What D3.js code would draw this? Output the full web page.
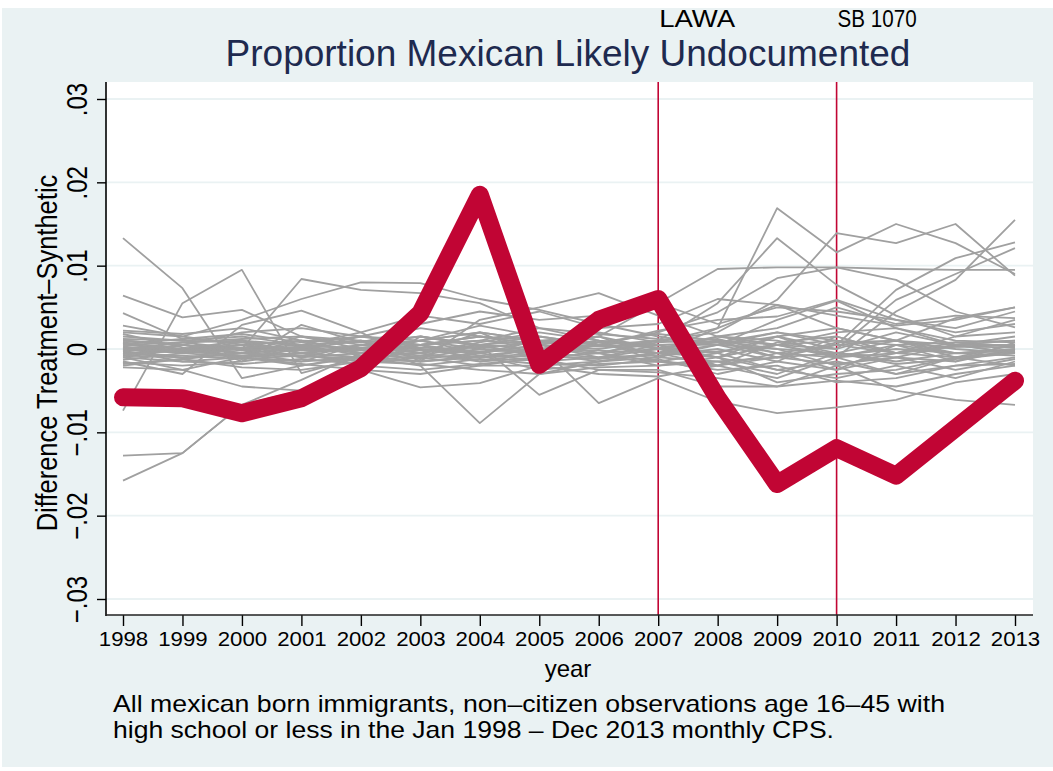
<!DOCTYPE html>
<html><head><meta charset="utf-8">
<script src="https://cdn.jsdelivr.net/npm/d3@7"></script>
<style>html,body{margin:0;padding:0;background:#fff;}svg{display:block;font-family:"Liberation Sans",Arial,Helvetica,sans-serif;}</style>
</head><body><svg id="c" width="1053" height="771"></svg>
<script>
const years = [1998,1999,2000,2001,2002,2003,2004,2005,2006,2007,2008,2009,2010,2011,2012,2013];
const yTicks = [-0.03,-0.02,-0.01,0,0.01,0.02,0.03];
const yTickLabels = ["\u2212.03","\u2212.02","\u2212.01","0",".01",".02",".03"];
const eventYears = [2007, 2010];
const eventLabels = ["LAWA", "SB 1070"];
const treated = [-.0058,-.0059,-.0077,-.0059,-.0023,.0043,.0185,-.0019,.0035,.0060,-.0059,-.0162,-.0119,-.0152,-.0095,-.0038];
const placebos = [
 [.0133,.0073,-.0035,-.0020,-.0010,.0005,-.0005,.0010,.0005,-.0005,.0015,.0005,-.0010,-.0005,.0008,.0003],
 [.0064,.0038,.0047,.0015,.0005,-.0005,.0020,-.0010,.0008,.0005,-.0020,.0008,.0015,-.0005,.0005,-.0005],
 [.0043,.0012,-.0015,.0029,.0008,.0015,.0003,-.0005,.0015,-.0010,.0005,.0035,.0058,.0025,.0005,.0010],
 [-.0074,.0055,.0095,-.0029,-.0010,.0005,.0015,.0010,-.0005,.0008,.0012,-.0005,-.0025,.0005,-.0015,.0008],
 [.0005,.0008,.0000,.0084,.0071,.0067,.0055,.0025,.0010,.0005,-.0010,.0005,.0010,-.0005,.0003,.0005],
 [.0020,.0015,.0035,.0060,.0080,.0079,.0060,.0047,.0030,.0015,.0005,-.0010,.0008,.0010,-.0010,.0005],
 [-.0015,-.0030,.0029,.0046,.0020,-.0015,.0035,.0050,.0067,.0040,.0015,.0010,-.0005,-.0010,.0005,-.0005],
 [-.0128,-.0125,-.0067,-.0037,-.0005,.0010,-.0005,.0005,-.0010,.0005,.0005,.0020,.0010,.0005,-.0005,.0000],
 [-.0158,-.0125,-.0067,-.0050,-.0030,.0015,.0005,-.0010,.0005,-.0005,.0010,.0000,-.0005,.0010,.0000,-.0005],
 [-.0010,-.0025,-.0045,-.0050,-.0025,-.0046,-.0041,-.0020,-.0015,-.0005,-.0010,-.0025,-.0015,-.0030,-.0010,-.0020],
 [.0015,.0010,.0015,.0005,.0010,-.0020,-.0089,-.0030,-.0015,-.0005,.0005,.0015,.0025,.0010,.0005,.0015],
 [-.0005,-.0010,-.0005,.0010,-.0005,-.0005,.0005,-.0055,-.0025,-.0025,-.0045,-.0045,-.0020,-.0050,-.0061,-.0067],
 [.0000,-.0005,.0005,-.0005,.0005,.0000,-.0005,.0005,-.0065,-.0035,-.0063,-.0077,-.0070,-.0061,-.0040,-.0030],
 [.0005,.0000,-.0010,-.0005,.0000,.0005,.0010,.0005,.0015,.0055,.0096,.0098,.0098,.0096,.0095,.0095],
 [-.0005,.0000,.0005,-.0010,.0005,.0010,.0000,-.0005,.0005,-.0005,.0025,.0169,.0116,.0150,.0127,.0090],
 [.0008,-.0005,.0000,.0005,-.0008,.0005,.0015,.0005,.0000,.0010,.0020,.0059,.0139,.0127,.0150,.0088],
 [-.0008,.0005,-.0005,.0000,.0010,-.0005,.0005,.0015,.0005,.0010,.0055,.0133,.0077,.0040,.0015,.0035],
 [.0002,-.0002,.0008,-.0005,-.0010,.0000,-.0010,.0000,.0010,-.0015,-.0005,.0015,-.0010,.0045,.0083,.0155],
 [.0010,.0005,-.0005,.0015,.0000,.0010,.0020,.0010,-.0005,.0000,.0010,-.0010,.0005,.0071,.0109,.0128],
 [-.0002,-.0015,-.0010,.0000,.0015,.0005,-.0015,-.0005,.0005,.0020,.0044,.0085,.0098,.0083,.0045,.0026],
 [.0000,.0008,.0010,-.0005,.0005,.0015,.0005,.0010,.0015,.0000,-.0010,.0005,.0000,.0059,.0090,.0121],
 [.0010,.0005,.0020,.0025,.0015,.0030,.0045,.0035,.0040,.0055,.0030,.0050,.0045,.0035,.0020,.0030],
 [-.0010,.0000,.0010,.0005,.0020,.0040,.0030,.0045,.0025,.0030,.0060,.0053,.0025,.0010,.0037,.0050],
 [.0028,.0015,.0005,.0010,.0008,.0025,.0015,.0005,.0020,.0008,.0025,.0053,.0040,.0028,.0035,.0050],
 [.0022,.0018,.0025,.0010,-.0005,.0010,.0028,.0015,.0005,.0022,.0035,.0039,.0059,.0035,.0025,.0045],
 [.0018,.0002,-.0010,-.0015,.0005,-.0005,.0008,.0020,.0010,.0000,.0015,.0025,.0050,.0030,.0040,.0037],
 [.0012,.0010,.0008,.0005,.0000,-.0008,.0005,.0000,-.0005,.0010,.0005,.0000,-.0020,-.0005,.0015,.0020],
 [.0008,.0000,-.0005,.0002,-.0005,.0005,-.0008,.0000,.0005,.0002,-.0010,.0015,.0000,.0020,.0005,.0005],
 [.0003,-.0005,.0005,-.0002,.0000,-.0010,.0000,-.0005,-.0010,-.0008,.0000,-.0015,.0015,-.0005,-.0010,-.0003],
 [.0000,-.0003,-.0008,-.0005,-.0010,-.0005,-.0015,-.0010,-.0005,-.0015,-.0020,-.0005,-.0010,-.0030,-.0020,-.0010],
 [-.0003,.0005,.0000,-.0010,-.0005,-.0012,-.0005,-.0015,-.0010,.0000,-.0005,-.0025,-.0035,-.0020,-.0035,-.0015],
 [-.0005,-.0008,-.0012,-.0008,-.0015,-.0008,-.0010,-.0005,-.0015,-.0010,-.0015,-.0030,-.0005,-.0015,-.0005,-.0008],
 [-.0008,-.0010,-.0005,-.0015,-.0010,-.0020,-.0012,-.0018,-.0020,-.0012,-.0030,-.0015,-.0025,-.0010,-.0025,-.0012],
 [-.0010,-.0015,-.0018,-.0012,-.0018,-.0010,-.0020,-.0010,-.0005,-.0020,-.0010,-.0040,-.0030,-.0025,-.0010,-.0005],
 [-.0013,-.0005,-.0010,-.0020,-.0008,-.0015,-.0008,-.0025,-.0018,-.0015,-.0025,-.0020,-.0040,-.0035,-.0020,-.0018],
 [-.0016,-.0020,-.0015,-.0005,-.0020,-.0025,-.0018,-.0012,-.0025,-.0028,-.0035,-.0045,-.0038,-.0045,-.0030,-.0020],
 [-.0020,-.0012,-.0022,-.0025,-.0015,-.0018,-.0025,-.0030,-.0022,-.0020,-.0015,-.0010,-.0018,-.0010,-.0015,.0000],
 [-.0022,-.0025,-.0010,-.0018,-.0025,-.0030,-.0020,-.0020,-.0030,-.0033,-.0020,-.0035,-.0010,.0005,.0008,.0010],
 [-.0002,.0008,.0012,.0015,.0010,.0005,.0010,.0025,.0018,.0012,.0008,.0020,.0005,.0010,-.0005,-.0002],
 [.0006,.0012,.0018,.0008,.0015,.0010,.0020,.0010,.0008,.0018,.0010,.0005,.0020,.0025,.0010,.0008],
 [-.0006,-.0002,.0002,.0000,-.0002,.0002,-.0003,.0000,-.0002,-.0005,-.0003,.0005,-.0008,.0000,-.0005,-.0002],
 [.0010,.0005,-.0002,.0003,.0002,-.0002,.0002,.0008,.0003,.0005,.0008,-.0005,.0005,-.0005,.0003,.0002],
 [-.0018,-.0012,-.0005,-.0008,-.0012,-.0015,-.0010,-.0008,-.0012,-.0005,-.0020,-.0010,-.0005,-.0018,-.0012,-.0005]
];
const titleText = "Proportion Mexican Likely Undocumented";
const yTitle = "Difference Treatment\u2013Synthetic";
const xTitle = "year";
const noteLines = ["All mexican born immigrants, non\u2013citizen observations age 16\u201345 with",
                   "high school or less in the Jan 1998 \u2013 Dec 2013 monthly CPS."];
const noteWidths = [832, 721];
const eventLabelWidths = [76, 79];

const svg = d3.select("#c");
const BG = "#EAF2F3", RED = "#C10534", GRAY = "#A0A0A0", INK = "#000";
const FONT = '"Liberation Sans",Arial,Helvetica,sans-serif';
const plot = {l:106, t:82, r:1033, b:615};

svg.append("rect").attr("x",2).attr("y",8).attr("width",1051).attr("height",759).attr("fill",BG);
svg.append("rect").attr("x",plot.l).attr("y",plot.t).attr("width",plot.r-plot.l).attr("height",plot.b-plot.t).attr("fill","#fff");

const x = d3.scaleLinear().domain([1998,2013]).range([123,1015]);
const y = d3.scaleLinear().domain([-0.03,0.03]).range([599,99]);

// gridlines
svg.append("g").selectAll("line").data(yTicks).join("line")
  .attr("x1",plot.l).attr("x2",plot.r).attr("y1",d=>y(d)).attr("y2",d=>y(d))
  .attr("stroke",BG).attr("stroke-width",1.8);

// event lines
svg.append("g").selectAll("line").data(eventYears).join("line")
  .attr("x1",d=>x(d)).attr("x2",d=>x(d)).attr("y1",plot.t).attr("y2",plot.b)
  .attr("stroke",RED).attr("stroke-width",1.6);

const line = d3.line().x((d,i)=>x(years[i])).y(d=>y(d));
svg.append("g").selectAll("path").data(placebos).join("path")
  .attr("d",line).attr("fill","none").attr("stroke",GRAY).attr("stroke-width",1.8).attr("stroke-linejoin","round");

svg.append("path").datum(treated).attr("d",line).attr("fill","none")
  .attr("stroke",RED).attr("stroke-width",18).attr("stroke-linejoin","round").attr("stroke-linecap","round");

// axes
const yAxis = svg.append("g").attr("transform",`translate(${plot.l},0)`)
  .call(d3.axisLeft(y).tickValues(yTicks).tickSize(9).tickSizeOuter(0).tickFormat((d,i)=>yTickLabels[i]));
yAxis.select(".domain").remove();
yAxis.selectAll(".tick line").attr("stroke",INK).attr("stroke-width",1.4);
yAxis.selectAll(".tick text").attr("x",null).attr("dy",null)
  .attr("transform","translate(-19,0) rotate(-90) scale(1,1.25)").attr("text-anchor","middle")
  .attr("font-size",24).attr("fill",INK).attr("font-family",FONT);

const xAxis = svg.append("g").attr("transform",`translate(0,${plot.b})`)
  .call(d3.axisBottom(x).tickValues(years).tickSize(11).tickSizeOuter(0).tickFormat(d3.format("d")));
xAxis.select(".domain").remove();
xAxis.selectAll(".tick line").attr("stroke",INK).attr("stroke-width",1.4);
xAxis.selectAll(".tick text").attr("y",null).attr("dy",null).attr("transform","translate(0,31) scale(1.14,1)")
  .attr("font-size",19.5).attr("fill",INK).attr("font-family",FONT);

svg.append("line").attr("x1",plot.l).attr("x2",plot.l).attr("y1",plot.t).attr("y2",plot.b+1).attr("stroke",INK).attr("stroke-width",1.6);
svg.append("line").attr("x1",plot.l).attr("x2",plot.r).attr("y1",plot.b).attr("y2",plot.b).attr("stroke","#222").attr("stroke-width",1.6);

// texts
svg.append("g").selectAll("text").data(eventYears).join("text")
  .attr("x",d=>x(d)+1).attr("y",27).attr("font-size",23).attr("fill",INK)
  .attr("textLength",(d,i)=>eventLabelWidths[i]).attr("lengthAdjust","spacingAndGlyphs")
  .text((d,i)=>eventLabels[i]);

svg.append("text").attr("x",568).attr("y",66).attr("text-anchor","middle")
  .attr("font-size",37).attr("fill","#1E2A4F").text(titleText);

svg.append("text").attr("transform","translate(57,353) rotate(-90) scale(1,1.15)").attr("text-anchor","middle")
  .attr("font-size",25.5).attr("fill",INK).text(yTitle);

svg.append("text").attr("x",568).attr("y",677).attr("text-anchor","middle")
  .attr("font-size",24).attr("fill",INK).text(xTitle);

svg.append("g").selectAll("text").data(noteLines).join("text")
  .attr("x",113).attr("y",(d,i)=>712+i*26).attr("font-size",24).attr("fill",INK)
  .attr("textLength",(d,i)=>noteWidths[i]).attr("lengthAdjust","spacingAndGlyphs")
  .text(d=>d);
</script></body></html>
